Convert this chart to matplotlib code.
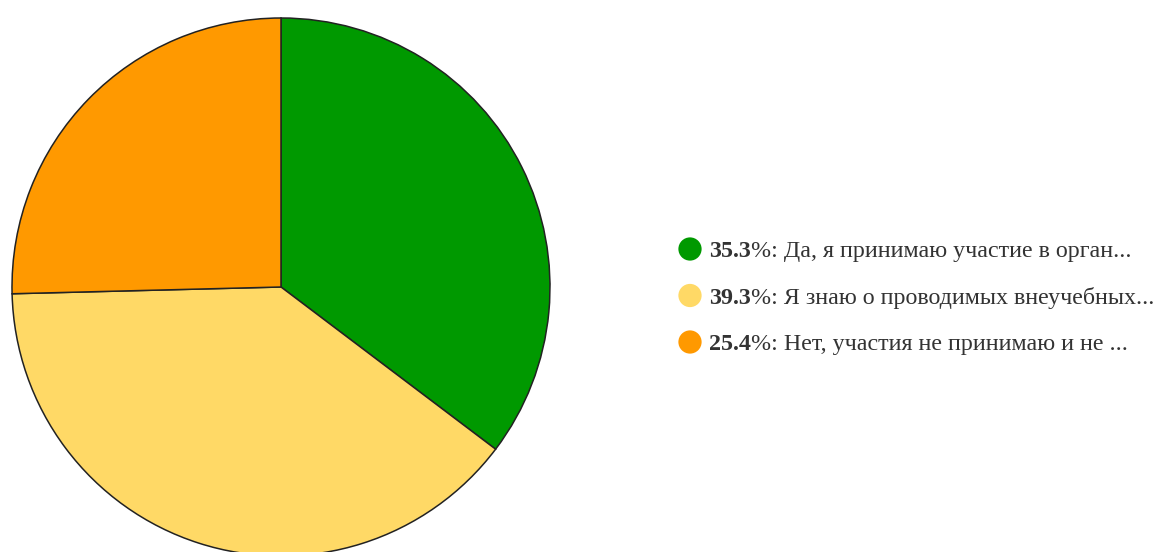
import matplotlib
matplotlib.use("Agg")
import matplotlib.pyplot as plt

shares = [35.3, 39.3, 25.4]
labels = [
    "Да, я принимаю участие в орган...",
    "Я знаю о проводимых внеучебных...",
    "Нет, участия не принимаю и не ...",
]
colors = ["#009900", "#ffd966", "#ff9900"]

W, H = 1160, 552
fig = plt.figure(figsize=(W / 100, H / 100), dpi=100)
ax = fig.add_axes([0, 0, 1, 1])
ax.set_xlim(0, W)
ax.set_ylim(0, H)
ax.set_aspect("equal")
ax.axis("off")

ax.pie(shares, colors=colors, startangle=90, counterclock=False,
       center=(281, H - 287), radius=269,
       wedgeprops=dict(edgecolor="#222222", linewidth=1.1))
ax.set_xlim(0, W)
ax.set_ylim(0, H)

font = dict(family="Liberation Serif", fontsize=17.3, color="#333333")
fig.canvas.draw()
renderer = fig.canvas.get_renderer()
for i, (s, lab, c) in enumerate(zip(shares, labels, colors)):
    y = H - (249 + i * 46.5)
    ax.scatter([690], [y], s=280, color=c, edgecolors="none", zorder=3)
    t = ax.text(709, y, f"{s:.1f}", fontweight="bold", va="center_baseline", **font)
    bb = t.get_window_extent(renderer)
    ax.text(bb.x1, y, f"%: {lab}", va="center_baseline", **font)

fig.savefig("out.png", dpi=100)
